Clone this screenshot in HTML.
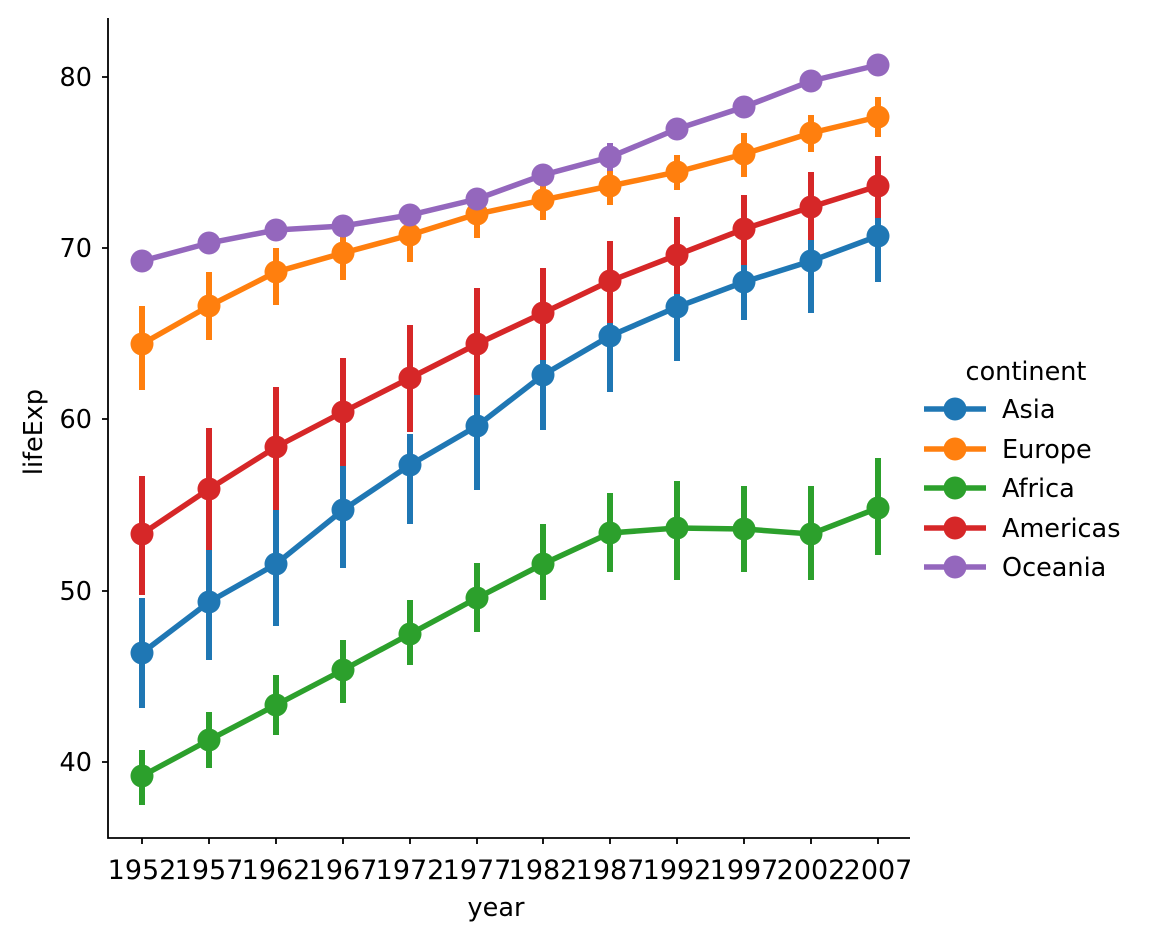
<!DOCTYPE html>
<html><head><meta charset="utf-8"><style>
html,body{margin:0;padding:0;background:#fff}
svg text{font-family:"DejaVu Sans","Liberation Sans",sans-serif;font-size:25.5px;fill:#000}
svg text.xt{font-size:27px}
</style></head><body>
<svg width="1149" height="940" viewBox="0 0 1149 940" xmlns="http://www.w3.org/2000/svg">
<rect width="1149" height="940" fill="#fff"/>
<g stroke-linecap="butt" fill="none" stroke-width="6">
<path stroke="#1f77b4" d="M142 598V708M209 548V660M276 500V626M343 466V568M410 434V524M477 393V490M543 337V430M610 306V392M677 278V361M744 248V320M811 240V313M878 198V282"/>
<polyline stroke="#1f77b4" stroke-width="5.5" points="142,653 209,602 276,564 343,510 410,465 477,426 543,375 610,336 677,307 744,282 811,261 878,236"/>
<g fill="#1f77b4" stroke="none"><circle cx="142" cy="653" r="11.5"/><circle cx="209" cy="602" r="11.5"/><circle cx="276" cy="564" r="11.5"/><circle cx="343" cy="510" r="11.5"/><circle cx="410" cy="465" r="11.5"/><circle cx="477" cy="426" r="11.5"/><circle cx="543" cy="375" r="11.5"/><circle cx="610" cy="336" r="11.5"/><circle cx="677" cy="307" r="11.5"/><circle cx="744" cy="282" r="11.5"/><circle cx="811" cy="261" r="11.5"/><circle cx="878" cy="236" r="11.5"/></g>
<path stroke="#ff7f0e" d="M142 306V390M209 272V340M276 248V305M343 232V280M410 218V262M477 198V238M543 185V220M610 170V205M677 155V190M744 133V177M811 115V152M878 97V137"/>
<polyline stroke="#ff7f0e" stroke-width="5.5" points="142,344 209,306 276,272 343,253 410,235 477,214 543,200 610,186 677,172 744,154 811,133 878,117"/>
<g fill="#ff7f0e" stroke="none"><circle cx="142" cy="344" r="11.5"/><circle cx="209" cy="306" r="11.5"/><circle cx="276" cy="272" r="11.5"/><circle cx="343" cy="253" r="11.5"/><circle cx="410" cy="235" r="11.5"/><circle cx="477" cy="214" r="11.5"/><circle cx="543" cy="200" r="11.5"/><circle cx="610" cy="186" r="11.5"/><circle cx="677" cy="172" r="11.5"/><circle cx="744" cy="154" r="11.5"/><circle cx="811" cy="133" r="11.5"/><circle cx="878" cy="117" r="11.5"/></g>
<path stroke="#2ca02c" d="M142 750V805M209 712V768M276 675V735M343 640V703M410 600V665M477 563V632M543 524V600M610 493V572M677 481V580M744 486V572M811 486V580M878 458V555"/>
<polyline stroke="#2ca02c" stroke-width="5.5" points="142,776 209,740 276,705 343,670 410,634 477,598 543,564 610,533 677,528 744,529 811,534 878,508"/>
<g fill="#2ca02c" stroke="none"><circle cx="142" cy="776" r="11.5"/><circle cx="209" cy="740" r="11.5"/><circle cx="276" cy="705" r="11.5"/><circle cx="343" cy="670" r="11.5"/><circle cx="410" cy="634" r="11.5"/><circle cx="477" cy="598" r="11.5"/><circle cx="543" cy="564" r="11.5"/><circle cx="610" cy="533" r="11.5"/><circle cx="677" cy="528" r="11.5"/><circle cx="744" cy="529" r="11.5"/><circle cx="811" cy="534" r="11.5"/><circle cx="878" cy="508" r="11.5"/></g>
<path stroke="#d62728" d="M142 476V595M209 428V550M276 387V510M343 358V466M410 325V432M477 288V395M543 268V360M610 241V323M677 217V294M744 195V265M811 172V240M878 156V218"/>
<polyline stroke="#d62728" stroke-width="5.5" points="142,534 209,489 276,447 343,412 410,378 477,344 543,313 610,281 677,255 744,229 811,207 878,186"/>
<g fill="#d62728" stroke="none"><circle cx="142" cy="534" r="11.5"/><circle cx="209" cy="489" r="11.5"/><circle cx="276" cy="447" r="11.5"/><circle cx="343" cy="412" r="11.5"/><circle cx="410" cy="378" r="11.5"/><circle cx="477" cy="344" r="11.5"/><circle cx="543" cy="313" r="11.5"/><circle cx="610" cy="281" r="11.5"/><circle cx="677" cy="255" r="11.5"/><circle cx="744" cy="229" r="11.5"/><circle cx="811" cy="207" r="11.5"/><circle cx="878" cy="186" r="11.5"/></g>
<path stroke="#9467bd" d="M142 256V266M209 238V248M276 225V235M343 221V231M410 209V221M477 188V210M543 166V184M610 143V171M677 118V140M744 96V118M811 72V92M878 55V75"/>
<polyline stroke="#9467bd" stroke-width="5.5" points="142,261 209,243 276,230 343,226 410,215 477,199 543,175 610,157 677,129 744,107 811,81 878,65"/>
<g fill="#9467bd" stroke="none"><circle cx="142" cy="261" r="11.5"/><circle cx="209" cy="243" r="11.5"/><circle cx="276" cy="230" r="11.5"/><circle cx="343" cy="226" r="11.5"/><circle cx="410" cy="215" r="11.5"/><circle cx="477" cy="199" r="11.5"/><circle cx="543" cy="175" r="11.5"/><circle cx="610" cy="157" r="11.5"/><circle cx="677" cy="129" r="11.5"/><circle cx="744" cy="107" r="11.5"/><circle cx="811" cy="81" r="11.5"/><circle cx="878" cy="65" r="11.5"/></g>
</g>
<g stroke="#000" stroke-width="1.8" fill="none">
<path d="M108 18V838H910"/>
<path d="M108 77H102M108 248H102M108 419H102M108 591H102M108 762H102"/>
<path d="M142 838V844M209 838V844M276 838V844M343 838V844M410 838V844M477 838V844M543 838V844M610 838V844M677 838V844M744 838V844M811 838V844M878 838V844"/>
</g>
<g text-anchor="end">
<text x="92" y="86">80</text><text x="92" y="257">70</text><text x="92" y="428">60</text><text x="92" y="600">50</text><text x="92" y="771">40</text>
</g>
<g text-anchor="middle">
<text class="xt" x="142" y="879">1952</text><text class="xt" x="209" y="879">1957</text><text class="xt" x="276" y="879">1962</text><text class="xt" x="343" y="879">1967</text><text class="xt" x="410" y="879">1972</text><text class="xt" x="477" y="879">1977</text><text class="xt" x="543" y="879">1982</text><text class="xt" x="610" y="879">1987</text><text class="xt" x="677" y="879">1992</text><text class="xt" x="744" y="879">1997</text><text class="xt" x="811" y="879">2002</text><text class="xt" x="878" y="879">2007</text>
<text x="496" y="916">year</text>
<text transform="translate(42,432) rotate(-90)">lifeExp</text>
<text x="1026" y="380">continent</text>
</g>
<g stroke-width="5.5">
<line x1="924" y1="409" x2="986" y2="409" stroke="#1f77b4"/><circle cx="955" cy="409" r="11.5" fill="#1f77b4"/>
<line x1="924" y1="449" x2="986" y2="449" stroke="#ff7f0e"/><circle cx="955" cy="449" r="11.5" fill="#ff7f0e"/>
<line x1="924" y1="488" x2="986" y2="488" stroke="#2ca02c"/><circle cx="955" cy="488" r="11.5" fill="#2ca02c"/>
<line x1="924" y1="528" x2="986" y2="528" stroke="#d62728"/><circle cx="955" cy="528" r="11.5" fill="#d62728"/>
<line x1="924" y1="567" x2="986" y2="567" stroke="#9467bd"/><circle cx="955" cy="567" r="11.5" fill="#9467bd"/>
</g>
<text x="1002" y="418">Asia</text>
<text x="1002" y="458">Europe</text>
<text x="1002" y="497">Africa</text>
<text x="1002" y="537">Americas</text>
<text x="1002" y="576">Oceania</text>
</svg>
</body></html>
